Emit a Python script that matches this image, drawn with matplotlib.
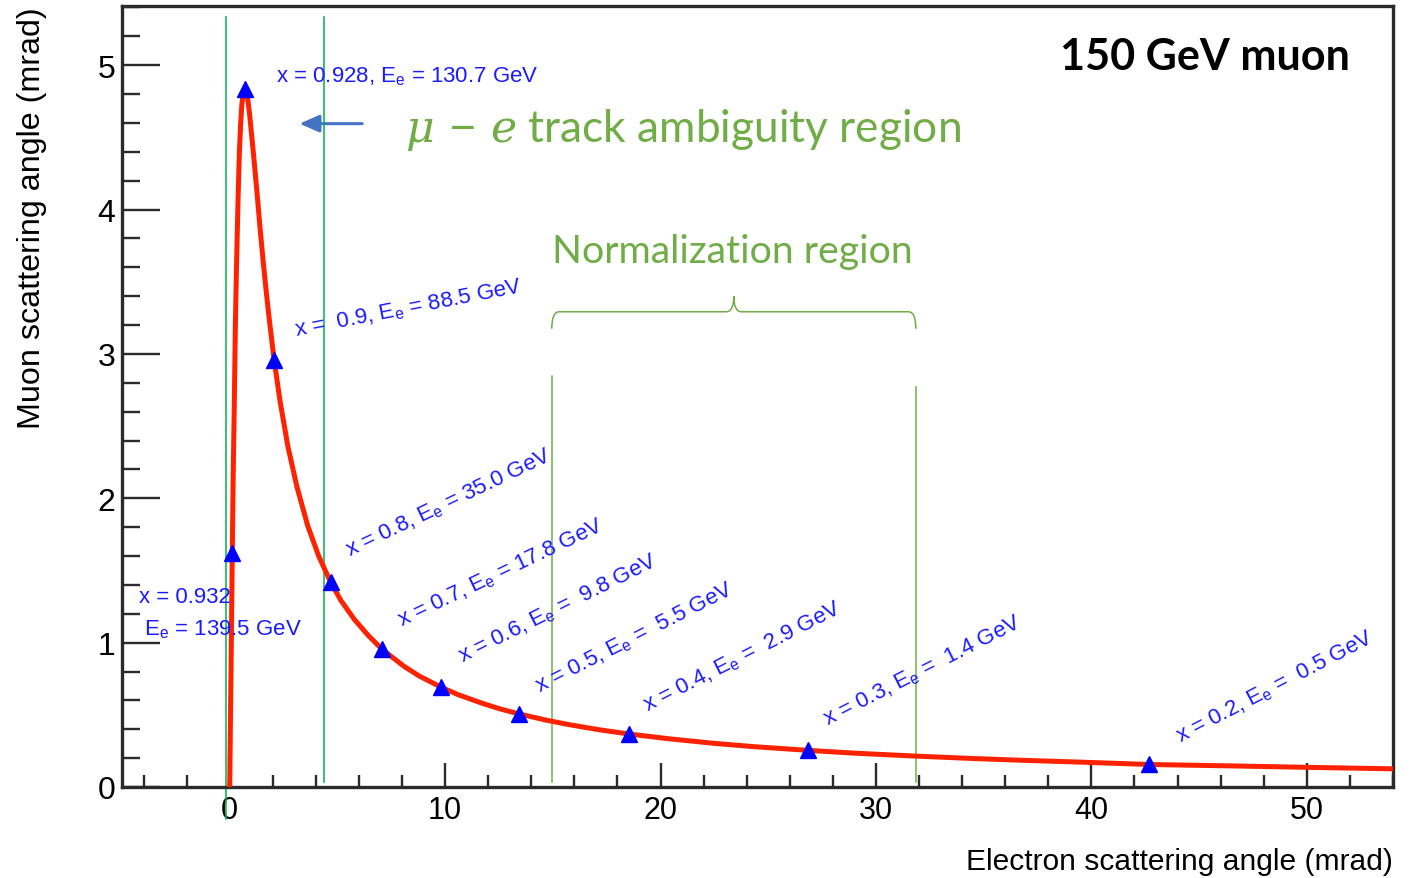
import matplotlib
matplotlib.use('Agg')
import matplotlib.pyplot as plt
from matplotlib.path import Path
from matplotlib.patches import PathPatch, FancyArrowPatch, ArrowStyle
from matplotlib.ticker import MultipleLocator

plt.rcParams['font.family'] = ['Liberation Sans', 'DejaVu Sans']
plt.rcParams['mathtext.fontset'] = 'custom'
plt.rcParams['mathtext.rm'] = 'Liberation Sans'
plt.rcParams['mathtext.it'] = 'DejaVu Serif:italic'
plt.rcParams['mathtext.bf'] = 'Liberation Sans:bold'

# ---------------- data ----------------
# kinematic curve: electron angle (mrad) vs muon angle (mrad)
theta_e = [0.00, 0.03, 0.06, 0.12, 0.16, 0.21, 0.26, 0.31, 0.39, 0.45, 0.51,
           0.56, 0.61, 0.66, 0.68, 0.72, 0.76, 0.82, 0.86, 0.93, 1.10, 1.26,
           1.41, 1.56, 1.71, 1.86, 2.06, 2.34, 2.70, 3.12, 3.62, 4.13, 4.68,
           5.17, 5.79, 6.43, 7.07, 8.11, 8.82, 9.83, 10.63, 11.78, 12.55,
           13.41, 14.66, 15.75, 17.13, 18.53, 20.46, 22.44, 24.37, 26.83,
           29.05, 31.85, 34.56, 36.80, 39.55, 42.67, 46.54, 50.47, 54.74]
theta_mu = [0.00, 0.40, 0.80, 1.62, 2.14, 2.62, 3.17, 3.57, 4.09, 4.40, 4.60,
            4.72, 4.79, 4.83, 4.833, 4.834, 4.82, 4.78, 4.74, 4.65, 4.39, 4.13,
            3.87, 3.63, 3.41, 3.21, 2.96, 2.67, 2.36, 2.08, 1.81, 1.60, 1.42,
            1.29, 1.16, 1.05, 0.954, 0.834, 0.767, 0.69, 0.638, 0.577, 0.541,
            0.507, 0.464, 0.432, 0.397, 0.367, 0.333, 0.303, 0.279, 0.254,
            0.234, 0.214, 0.197, 0.185, 0.172, 0.156, 0.146, 0.135, 0.124]

# marked points
mark_x_var = [0.932, 0.928, 0.9, 0.8, 0.7, 0.6, 0.5, 0.4, 0.3, 0.2]
mark_Ee = [139.5, 130.7, 88.5, 35.0, 17.8, 9.8, 5.5, 2.9, 1.4, 0.5]
mark_theta_e = [0.12, 0.72, 2.06, 4.68, 7.07, 9.83, 13.41, 18.53, 26.83, 42.67]
mark_theta_mu = [1.62, 4.834, 2.96, 1.42, 0.954, 0.69, 0.507, 0.367, 0.254,
                 0.156]

# label anchor positions (data coords) and rotation for the slanted labels
lab_x = [3.06, 5.56, 7.98, 10.80, 14.39, 19.41, 27.76, 44.12]
lab_y = [3.125, 1.60, 1.116, 0.866, 0.66, 0.527, 0.429, 0.312]
lab_rot = [11, 25.5, 25.5, 26.5, 27, 27, 27, 27.5]

AMBIG_LINES_X = [-0.19, 4.37]
NORM_LINES_X = [14.95, 31.85]

XMIN, XMAX = -5, 54.0
YMIN, YMAX = 0, 5.41

# ---------------- figure ----------------
W, H = 1411, 879
fig = plt.figure(figsize=(W / 100, H / 100), dpi=100)
ax = fig.add_axes([122 / W, 1 - 788 / H, (1393 - 122) / W, (788 - 7) / H])
ax.set_xlim(XMIN, XMAX)
ax.set_ylim(YMIN, YMAX)

for s in ax.spines.values():
    s.set_linewidth(2.4)
    s.set_color('#2b2b2b')

ax.xaxis.set_major_locator(MultipleLocator(10))
ax.xaxis.set_minor_locator(MultipleLocator(2))
ax.yaxis.set_major_locator(MultipleLocator(1))
ax.yaxis.set_minor_locator(MultipleLocator(0.2))
ax.tick_params(which='both', direction='in', top=False, right=False,
               color='#2b2b2b', width=1.7)
ax.tick_params(axis='x', which='major', length=17, pad=6, labelsize=22)
ax.tick_params(axis='x', which='minor', length=8.6)
ax.tick_params(axis='y', which='major', length=27, pad=5, labelsize=23)
ax.tick_params(axis='y', which='minor', length=13)

# curve and markers
ax.plot(theta_e, theta_mu, color='#ff2200', lw=3.6, solid_joinstyle='round',
        zorder=3)
ax.plot(mark_theta_e, mark_theta_mu, ls='none', marker='^', ms=11,
        color='#0000ff', zorder=4)

BLUE = '#1a1aff'
FS_LAB = 16
# horizontal labels
ax.text(2.16, 4.89, f"x = {mark_x_var[1]}, E$_\\mathrm{{e}}$ = {mark_Ee[1]} GeV",
        color=BLUE, fontsize=FS_LAB, ha='left', va='baseline')
ax.text(-4.19, 1.282, f"x = {mark_x_var[0]}", color=BLUE, fontsize=FS_LAB,
        ha='left', va='baseline')
ax.text(-4.0, 1.06, f"E$_\\mathrm{{e}}$ = {mark_Ee[0]} GeV", color=BLUE,
        fontsize=FS_LAB, ha='left', va='baseline')

# slanted labels
for i in range(len(lab_x)):
    xv = mark_x_var[i + 2]
    ev = mark_Ee[i + 2]
    xs = f"x =  {xv}" if i == 0 else f"x = {xv}"
    es = f"{ev}" if ev >= 10 else f" {ev}"
    s = f"{xs}, E$_\\mathrm{{e}}$ = {es} GeV"
    ax.text(lab_x[i], lab_y[i], s, color=BLUE, fontsize=FS_LAB,
            rotation=lab_rot[i], rotation_mode='anchor', ha='left',
            va='baseline')

# region lines
AMB_GREEN = '#00b050'
NORM_GREEN = '#70ad47'
ax.plot([AMBIG_LINES_X[0]] * 2, [-0.222, 5.336], color=AMB_GREEN, lw=1.1,
        clip_on=False, zorder=2)
ax.plot([AMBIG_LINES_X[1]] * 2, [0.035, 5.336], color=AMB_GREEN, lw=1.1,
        zorder=2)
ax.plot([NORM_LINES_X[0]] * 2, [0.035, 2.848], color=NORM_GREEN, lw=1.1,
        zorder=2)
ax.plot([NORM_LINES_X[1]] * 2, [0.035, 2.772], color=NORM_GREEN, lw=1.1,
        zorder=2)

# curly brace over the normalization region
x0, x1 = NORM_LINES_X
xm = 0.5 * (x0 + x1)
y_end, y_line, y_cusp = 3.174, 3.292, 3.40
r = 0.35
verts = [(x0, y_end), (x0, y_line), (x0 + r, y_line),
         (xm - r, y_line), (xm, y_line), (xm, y_cusp),
         (xm, y_line), (xm + r, y_line),
         (x1 - r, y_line), (x1, y_line), (x1, y_end)]
codes = [Path.MOVETO, Path.CURVE3, Path.CURVE3,
         Path.LINETO, Path.CURVE3, Path.CURVE3,
         Path.CURVE3, Path.CURVE3,
         Path.LINETO, Path.CURVE3, Path.CURVE3]
ax.add_patch(PathPatch(Path(verts, codes), fill=False, edgecolor=NORM_GREEN,
                       lw=1.1))

# arrow
ax.add_patch(FancyArrowPatch((6.28, 4.595), (3.11, 4.595),
                             arrowstyle=ArrowStyle('-|>', head_length=0.8,
                                                   head_width=0.35),
                             mutation_scale=15, color='#4472c4', lw=2.2))

GFONT = ['Lato', 'DejaVu Sans']
t_amb = ax.text(8.12, 4.477, r"$\mu\,-\,e$ track ambiguity region",
                color=NORM_GREEN, fontsize=30, family=GFONT, ha='left',
                va='baseline')
t_norm = ax.text(23.35, 3.638, "Normalization region", color=NORM_GREEN,
                 fontsize=26, family=GFONT, ha='center', va='baseline')
t_muon = ax.text(45.28, 4.976, "150 GeV muon", color='black', fontsize=26,
                 family=GFONT, weight='bold', ha='center', va='baseline')

ax.set_xlabel("Electron scattering angle (mrad)", loc='right', fontsize=21)
ax.xaxis.set_label_coords(1.0, -0.077)
ax.set_ylabel("Muon scattering angle (mrad)", loc='top', fontsize=22)
ax.yaxis.set_label_coords(-0.059, 1.0)

# fit text sizes to the measured widths
fig.canvas.draw()
rend = fig.canvas.get_renderer()


def fit(txt, target, use_height=False):
    bb = txt.get_window_extent(rend)
    cur = bb.height if use_height else bb.width
    txt.set_fontsize(txt.get_fontsize() * target / cur)


fit(t_amb, 556)
fit(t_norm, 360)
fit(t_muon, 290)
fit(ax.xaxis.label, 427)
fit(ax.yaxis.label, 420, use_height=True)

fig.savefig('out.png', dpi=100)
